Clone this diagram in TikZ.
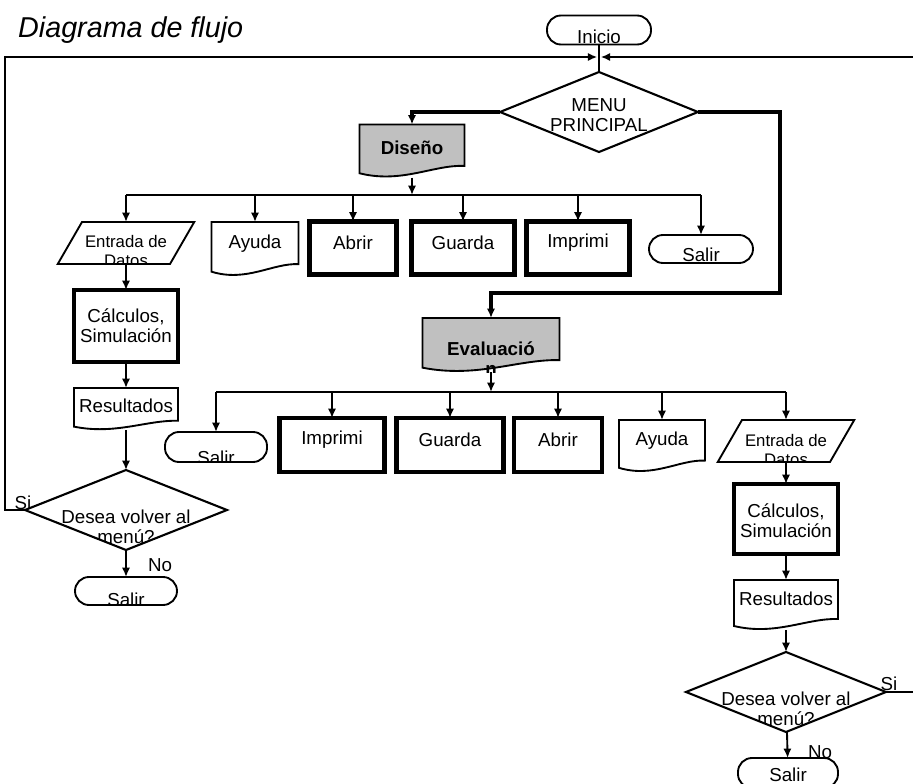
\documentclass[tikz,border=0pt]{standalone}
\usepackage{fontspec}
\setmainfont{Liberation Sans}
\usetikzlibrary{shapes.geometric,arrows.meta,calc,backgrounds}

\definecolor{fillgris}{RGB}{192,192,192}
\newcommand{\cuerpo}{\fontsize{16}{17}\selectfont}
\newcommand{\chico}{\fontsize{14.3}{15.5}\selectfont}

% hoja con borde ondulado abajo
\newcommand{\hojadoc}[2][white]{%
  \filldraw[fill=#1,line width=1.6pt] let \p1=(#2.south west), \p2=(#2.north east),
    \n1={\x2-\x1}, \n2={\y2-\y1} in
    (\x1,\y2) -- (\x2,\y2) -- (\x2,{\y1+0.22*\n2})
    .. controls ({\x1+0.7*\n1},{\y1+0.24*\n2}) and ({\x1+0.4*\n1},{\y1-0.12*\n2}) ..
    (\x1,{\y1+0.08*\n2}) -- cycle;}

\begin{document}
\begin{tikzpicture}[x=0.03cm,y=-0.03cm]
\tikzset{
  base/.style={inner sep=0pt,outer sep=0pt,line width=1.6pt},
  tam/.style 2 args={minimum width={#1*0.03cm},minimum height={#2*0.03cm}},
  txt/.style 2 args={path picture={\node[shape=rectangle,font=\cuerpo,align=center,inner sep=0pt]
      at ([yshift={-0.8504*(#2)*1pt}]path picture bounding box.center) {#1};}},
  txtp/.style 2 args={path picture={\node[shape=rectangle,font=\chico,align=center,inner sep=0pt]
      at ([yshift={-0.8504*(#2)*1pt}]path picture bounding box.center) {#1};}},
  terminal/.style={base,draw,rectangle,rounded corners=0.42cm},
  decision/.style={base,draw,diamond,line width=1.8pt},
  entrada/.style={base,draw,trapezium,trapezium left angle=60,trapezium right angle=120,
      inner xsep=1.32cm,inner ysep=0.63cm},
  proceso/.style={base,draw,rectangle,line width=3.6pt},
  hoja/.style={base,rectangle},
  linea/.style={line width=1.6pt},
  flecha/.style={linea,-{Latex[length=8pt,width=7pt]}},
  gruesa/.style={flecha,line width=3pt},
  etiq/.style={font=\cuerpo,inner sep=0pt}
}
\useasboundingbox (0,0) rectangle (913,784);

\node[font=\fontsize{24.5}{28}\selectfont\itshape,anchor=west,inner sep=0pt] (titulo) at (18,30) {Diagrama de flujo};

% menu principal
\node[terminal,tam={104}{29},txt={Inicio}{6.5}] (ini) at (599,30) {};
\node[decision,tam={198}{80},txt={MENU\\PRINCIPAL}{3.5}] (menu) at (599,112) {};
\node[hoja,tam={105}{53},txt={\textbf{Diseño}}{-3}] (dis) at (412,151) {};
\node[hoja,tam={137}{54},txt={\textbf{Evaluació}\\\textbf{n}}{14}] (eva) at (491,345) {};

% rama Diseño
\node[entrada,txtp={Entrada de\\Datos}{8}] (entL) at (126,243) {};
\node[hoja,tam={87}{54},txt={Ayuda}{-5}] (ayuL) at (255,249) {};
\node[proceso,tam={87}{53},txt={Abrir}{-5}] (abrL) at (353,248) {};
\node[proceso,tam={103}{53},txt={Guarda}{-5}] (guaL) at (463,248) {};
\node[proceso,tam={103}{53},txt={Imprimi}{-5}] (impL) at (578,248) {};
\node[terminal,tam={104}{28},txt={Salir}{6}] (salL1) at (701,249) {};
\node[proceso,tam={104}{72},txt={Cálculos,\\Simulación}{0}] (calL) at (126,326) {};
\node[hoja,tam={104}{42},txt={Resultados}{-3}] (resL) at (126,409) {};
\node[decision,tam={202}{80},txt={Desea volver al\\menú?}{17}] (desL) at (126,510) {};
\node[terminal,tam={102}{28},txt={Salir}{9}] (salL2) at (126,591) {};

% rama Evaluacion
\node[terminal,tam={102}{30},txt={Salir}{11}] (salR1) at (216,447) {};
\node[proceso,tam={105}{54},txt={Imprimi}{-5}] (impR) at (332,445) {};
\node[proceso,tam={107}{54},txt={Guarda}{-5}] (guaR) at (450,445) {};
\node[proceso,tam={88}{54},txt={Abrir}{-5}] (abrR) at (558,445) {};
\node[hoja,tam={86}{52},txt={Ayuda}{-5}] (ayuR) at (662,446) {};
\node[entrada,txtp={Entrada de\\Datos}{9}] (entR) at (786,441) {};
\node[proceso,tam={104}{70},txt={Cálculos,\\Simulación}{2}] (calR) at (786,519) {};
\node[hoja,tam={104}{50},txt={Resultados}{-6}] (resR) at (786,605) {};
\node[decision,tam={200}{80},txt={Desea volver al\\menú?}{17}] (desR) at (786,692) {};
\node[terminal,tam={100}{30},txt={Salir}{2}] (salR2) at (788,773) {};

\node[etiq] (siL) at (23,503) {Si};
\node[etiq] (noL) at (160,565) {No};
\node[etiq] (siR) at (889,684) {Si};
\node[etiq] (noR) at (820,752) {No};

\begin{pgfonlayer}{background}
\hojadoc[fillgris]{dis}
\hojadoc[fillgris]{eva}
\hojadoc{ayuL}
\hojadoc{resL}
\hojadoc{ayuR}
\hojadoc{resR}
\end{pgfonlayer}

\coordinate (junta) at (599,57);
\coordinate (retI) at (5,57);
\coordinate (retD) at (930,57);
\coordinate (codo) at (780,293);
\coordinate (bus1) at (0,195);
\coordinate (bus2) at (0,392);

\draw[line width=2.2pt] (ini) -- (menu);
\draw[gruesa] (menu.west) -| (dis.north);
\draw[gruesa] (menu.east) -| (codo) -| (eva.north);

\draw[flecha] (dis.south) -- (dis.south |- bus1);
\draw[linea] (bus1 -| entL) -- (bus1 -| salL1);
\foreach \n in {entL,ayuL,abrL,guaL,impL,salL1}
  \draw[flecha] (bus1 -| \n) -- (\n.north);

\draw[flecha] (eva.south) -- (eva.south |- bus2);
\draw[linea] (bus2 -| salR1) -- (bus2 -| entR);
\foreach \n in {salR1,impR,guaR,abrR,ayuR,entR}
  \draw[flecha] (bus2 -| \n) -- (\n.north);

\draw[flecha] (entL) -- (calL);
\draw[flecha] (calL) -- (resL);
\draw[flecha] (resL) -- (desL);
\draw[flecha] (desL) -- (salL2);
\draw[flecha] (entR) -- (calR);
\draw[flecha] (calR) -- (resR);
\draw[flecha] (resR) -- (desR);
\draw[flecha] (desR) -- (salR2);

% regreso al menu
\draw[flecha,shorten >=1.5pt] (desL.west) -- (desL.west -| retI) -- (retI) -- (junta);
\draw[flecha,shorten >=1.5pt] (desR.east) -- (desR.east -| retD) -- (retD) -- (junta);
\end{tikzpicture}
\end{document}
